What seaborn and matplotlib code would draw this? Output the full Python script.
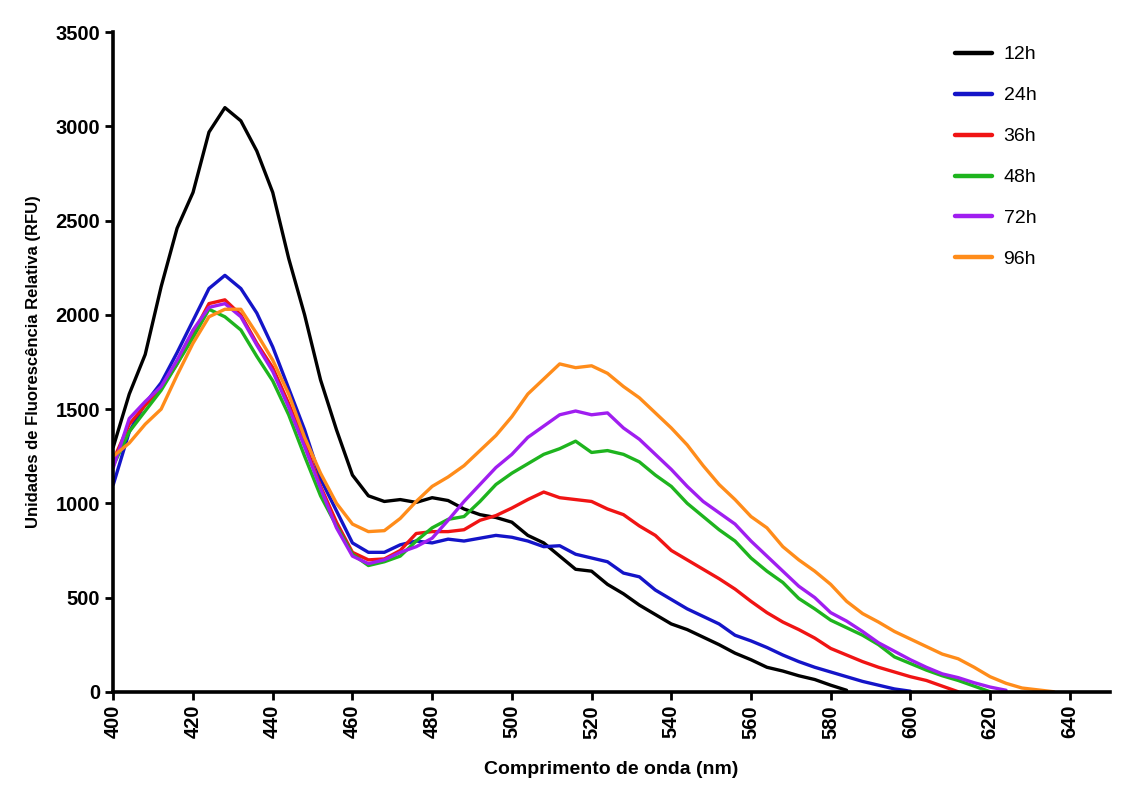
"""
Espectros de fluorescência ao longo do tempo (12h a 96h).
"""
import numpy as np
import pandas as pd
import matplotlib
matplotlib.use("Agg")
import matplotlib.pyplot as plt
import seaborn as sns

sns.set_theme(style="ticks")
plt.rcParams['font.family'] = ['Liberation Sans', 'DejaVu Sans']
plt.rcParams['text.color'] = 'black'
plt.rcParams['axes.labelcolor'] = 'black'
plt.rcParams['xtick.color'] = 'black'
plt.rcParams['ytick.color'] = 'black'
plt.rcParams['axes.edgecolor'] = 'black'

nan = np.nan

# comprimento de onda (nm), passo de 4 nm
wl = list(range(400, 641, 4))

rfu_12h = [1300, 1580, 1790, 2150, 2460, 2650, 2970, 3100, 3030, 2870,
           2650, 2300, 2000, 1655, 1390, 1150, 1040, 1010, 1020, 1005,
           1030, 1015, 970, 940, 925, 900, 830, 790, 720, 650,
           640, 570, 520, 460, 410, 360, 330, 290, 250, 205,
           170, 130, 110, 85, 65, 35, 8, nan, nan, nan,
           nan, nan, nan, nan, nan, nan, nan, nan, nan, nan, nan]

rfu_24h = [1100, 1380, 1530, 1640, 1800, 1970, 2140, 2210, 2140, 2010,
           1830, 1610, 1390, 1130, 960, 790, 740, 740, 780, 800,
           790, 810, 800, 815, 830, 820, 800, 770, 775, 730,
           710, 690, 630, 610, 540, 490, 440, 400, 360, 300,
           270, 235, 195, 160, 130, 105, 80, 55, 35, 15,
           3, nan, nan, nan, nan, nan, nan, nan, nan, nan, nan]

rfu_36h = [1230, 1420, 1520, 1610, 1740, 1900, 2060, 2080, 2000, 1850,
           1720, 1530, 1320, 1090, 900, 740, 700, 705, 750, 840,
           850, 850, 860, 910, 935, 975, 1020, 1060, 1030, 1020,
           1010, 970, 940, 880, 830, 750, 700, 650, 600, 545,
           480, 420, 370, 330, 285, 230, 195, 160, 130, 105,
           80, 60, 30, 0, nan, nan, nan, nan, nan, nan, nan]

rfu_48h = [1200, 1380, 1490, 1600, 1740, 1880, 2030, 1990, 1920, 1780,
           1650, 1470, 1250, 1040, 880, 730, 670, 690, 720, 800,
           870, 915, 930, 1010, 1100, 1160, 1210, 1260, 1290, 1330,
           1270, 1280, 1260, 1220, 1150, 1090, 1000, 930, 860, 800,
           710, 640, 580, 495, 440, 380, 340, 300, 250, 185,
           150, 115, 85, 60, 30, 0, nan, nan, nan, nan, nan]

rfu_72h = [1190, 1450, 1540, 1620, 1760, 1920, 2040, 2060, 1990, 1840,
           1700, 1510, 1300, 1080, 870, 720, 680, 700, 740, 770,
           815, 910, 1010, 1100, 1190, 1260, 1350, 1410, 1470, 1490,
           1470, 1480, 1400, 1340, 1260, 1180, 1090, 1010, 950, 890,
           800, 720, 640, 560, 500, 420, 375, 320, 260, 215,
           170, 130, 95, 75, 48, 25, 8, nan, nan, nan, nan]

rfu_96h = [1250, 1320, 1420, 1500, 1680, 1850, 1990, 2030, 2030, 1900,
           1760, 1580, 1350, 1160, 1000, 890, 850, 855, 920, 1010,
           1090, 1140, 1200, 1280, 1360, 1460, 1580, 1660, 1740, 1720,
           1730, 1690, 1620, 1560, 1480, 1400, 1310, 1200, 1100, 1020,
           930, 870, 770, 700, 640, 570, 480, 415, 370, 320,
           280, 240, 200, 175, 130, 80, 45, 20, 10, 0, nan]

labels = ['12h', '24h', '36h', '48h', '72h', '96h']
series = [rfu_12h, rfu_24h, rfu_36h, rfu_48h, rfu_72h, rfu_96h]
cores = ['#000000', '#1414c8', '#f01414', '#1eb41e', '#a01ef0', '#ff8c1a']

# tabela longa para o seaborn
frames = []
for lab, vals in zip(labels, series):
    frames.append(pd.DataFrame({'wl': wl, 'rfu': vals, 'tempo': lab}))
df = pd.concat(frames, ignore_index=True).dropna()

fig = plt.figure(figsize=(11.22, 7.87), dpi=100)
ax = fig.add_axes([0.101, 0.121, 0.888, 0.838])

sns.lineplot(data=df, x='wl', y='rfu', hue='tempo', hue_order=labels,
             palette=cores, estimator=None, sort=False, linewidth=2.4, ax=ax)

ax.set_xlim(400, 650)
ax.set_ylim(0, 3500)
ax.set_xticks(range(400, 641, 20))
ax.set_yticks(range(0, 3501, 500))
for lbl in ax.get_xticklabels():
    lbl.set_rotation(90)
ax.tick_params(axis='both', labelsize=14.5, width=2, length=6, direction='out')
for lbl in ax.get_xticklabels() + ax.get_yticklabels():
    lbl.set_fontweight('bold')

sns.despine(ax=ax)
ax.spines['left'].set_linewidth(2.6)
ax.spines['bottom'].set_linewidth(2.6)

ax.set_xlabel('Comprimento de onda (nm)', fontsize=14, fontweight='bold',
              labelpad=16)
ax.set_ylabel('Unidades de Fluorescência Relativa (RFU)', fontsize=12,
              fontweight='bold', labelpad=10)

leg = ax.legend(loc='upper right', frameon=False, fontsize=14,
                handlelength=1.9, handletextpad=0.6, labelspacing=1.2,
                borderaxespad=0.3, bbox_to_anchor=(0.94, 1.0))
for h in leg.get_lines():
    h.set_linewidth(3.2)

fig.savefig('out.png', dpi=100)
